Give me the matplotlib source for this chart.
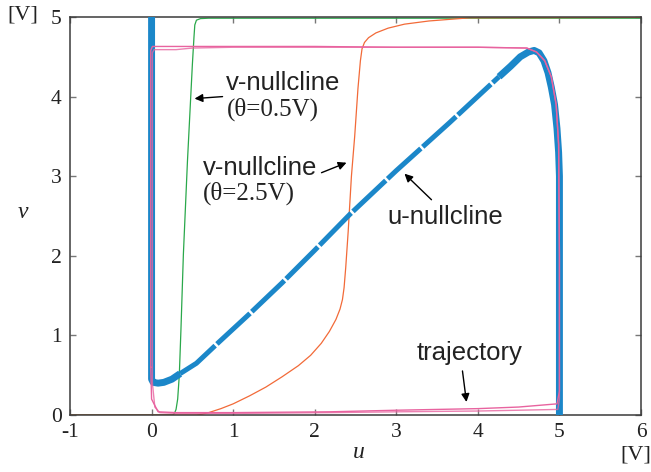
import matplotlib
matplotlib.use("Agg")
import matplotlib.pyplot as plt

# ===========================
#      Data
# ===========================
# u-nullcline (three pieces: left branch, middle branch, right branch)
nc_u_left = [0.0, 0.0, 0.02, 0.08, 0.15, 0.25, 0.35]
nc_v_left = [5.05, 0.45, 0.41, 0.40, 0.41, 0.45, 0.52]
nc_u_mid = [0.35, 0.55, 0.83, 1.2, 1.6, 2.0, 2.43, 3.0, 3.65, 4.26]
nc_v_mid = [0.52, 0.65, 0.92, 1.27, 1.66, 2.07, 2.52, 3.07, 3.67, 4.25]
nc_u_right = [4.26, 4.4, 4.52, 4.62, 4.69, 4.75, 4.81, 4.86, 4.9, 4.94,
              4.97, 4.99, 5.0, 5.0]
nc_v_right = [4.25, 4.38, 4.5, 4.56, 4.58, 4.55, 4.45, 4.3, 4.12, 3.9,
              3.6, 3.3, 3.0, -0.05]

# v-nullcline, theta = 0.5 V
vn05_u = [-1.0, 0.26, 0.28, 0.30, 0.32, 0.34, 0.36, 0.39, 0.44, 0.50,
          0.52, 0.53, 0.55, 0.6, 0.7, 6.0]
vn05_v = [0.0, 0.0, 0.02, 0.07, 0.2, 0.5, 1.07, 2.02, 3.19, 4.40,
          4.75, 4.9, 4.96, 4.98, 4.985, 4.985]

# v-nullcline, theta = 2.5 V
vn25_u = [-1.0, 0.55, 0.62, 0.7, 0.85, 1.0, 1.2, 1.4, 1.6, 1.8, 1.95,
          2.08, 2.18, 2.26, 2.31, 2.34, 2.36, 2.38, 2.41, 2.45, 2.49,
          2.53, 2.56, 2.58, 2.61, 2.66, 2.75, 2.9, 3.1, 3.4, 3.9, 6.0]
vn25_v = [0.0, 0.0, 0.01, 0.03, 0.08, 0.14, 0.24, 0.35, 0.48, 0.62, 0.75,
          0.9, 1.05, 1.2, 1.33, 1.45, 1.6, 1.85, 2.3, 3.0, 3.5,
          4.1, 4.45, 4.6, 4.68, 4.74, 4.8, 4.86, 4.91, 4.95, 4.99, 4.995]

# trajectories (two laps of the limit cycle)
tr1_u = [-0.01, -0.01, 0.01, 0.3, 1.0, 2.0, 3.0, 4.0, 4.6, 4.72, 4.82,
         4.9, 4.96, 4.99, 5.0, 5.0, 4.97, 4.5, 4.0, 3.0, 2.18, 1.0, 0.3,
         0.08, 0.0, -0.01]
tr1_v = [0.6, 4.58, 4.63, 4.63, 4.63, 4.63, 4.62, 4.62, 4.61, 4.56, 4.45,
         4.25, 3.9, 3.4, 2.0, 0.3, 0.14, 0.1, 0.08, 0.06, 0.04, 0.03, 0.03,
         0.04, 0.2, 0.6]
tr2_u = [0.01, 0.01, 0.03, 0.3, 0.5, 1.0, 2.0, 3.0, 4.0, 4.6, 4.72, 4.82,
         4.9, 4.96, 4.99, 5.0, 5.0, 4.98, 4.5, 4.0, 3.0, 2.18, 1.0, 0.3,
         0.1, 0.04, 0.01]
tr2_v = [0.4, 4.55, 4.59, 4.59, 4.61, 4.62, 4.62, 4.62, 4.62, 4.61, 4.56,
         4.45, 4.25, 3.9, 3.4, 2.0, 0.2, 0.07, 0.06, 0.05, 0.04, 0.03, 0.02,
         0.02, 0.03, 0.1, 0.4]

xticks = [-1, 0, 1, 2, 3, 4, 5, 6]
yticks = [0, 1, 2, 3, 4, 5]

blue = "#1b87c9"
pink = "#e8639f"
green = "#2aa84a"
orange = "#f26a38"

serif = "Liberation Serif"
sans = "Liberation Sans"

# ===========================
#      Figure
# ===========================
fig = plt.figure(figsize=(6.51, 4.72), dpi=100)
ax = fig.add_axes([70 / 651, 57 / 472, 571 / 651, 398 / 472])

ax.plot(vn05_u, vn05_v, color=green, lw=0.9, zorder=2)
ax.plot(vn25_u, vn25_v, color=orange, lw=0.9, zorder=2)

ax.plot(nc_u_left, nc_v_left, color=blue, lw=5, solid_capstyle="butt", zorder=3)
ax.plot(nc_u_mid, nc_v_mid, color=blue, lw=3.6, ls=(0, (9, 0.5)), zorder=3)
ax.plot(nc_u_right, nc_v_right, color=blue, lw=5, solid_capstyle="butt", zorder=3)

ax.plot(tr1_u, tr1_v, color=pink, lw=1.0, zorder=4)
ax.plot(tr2_u, tr2_v, color=pink, lw=1.0, alpha=0.8, zorder=4)

ax.set_xlim(-1, 6)
ax.set_ylim(0, 5)
ax.set_xticks(xticks)
ax.set_yticks(yticks)
ax.set_xticklabels([str(t) for t in xticks], fontfamily=serif, fontsize=15.5)
ax.set_yticklabels([str(t) for t in yticks], fontfamily=serif, fontsize=15.5)
ax.tick_params(direction="in", length=4, width=1, color="#777777",
               top=True, right=True, pad=6, labelcolor="#222222")
for s in ax.spines.values():
    s.set_color("#3a3a3a")
    s.set_linewidth(1.1)

# axis labels
fig.text(359 / 651, 1 - 452 / 472, "u", fontfamily=serif, style="italic",
         fontsize=17, ha="center", va="center", color="#222222")
fig.text(23 / 651, 1 - 213 / 472, "v", fontfamily=serif, style="italic",
         fontsize=17, ha="center", va="center", color="#222222")
fig.text(23 / 651, 1 - 15 / 472, "[V]", fontfamily=serif, fontsize=16,
         ha="center", va="center", color="#222222")
fig.text(636 / 651, 1 - 455 / 472, "[V]", fontfamily=serif, fontsize=16,
         ha="center", va="center", color="#222222")

# annotations
def px(x, y):
    # pixel position -> data coords
    return (x - 152) / 81.6, (415 - y) / 79.5

arrow = dict(arrowstyle="-|>", color="black", lw=1.0, mutation_scale=12,
             shrinkA=0, shrinkB=0)
tc = "#222222"

ax.text(*px(226, 83), "v-nullcline", fontfamily=sans, fontsize=18.5,
        ha="left", va="center", color=tc)
ax.text(*px(227, 110), "(θ=0.5V)", fontfamily=serif, fontsize=18,
        ha="left", va="center", color=tc)
ax.annotate("", xy=px(195, 99), xytext=px(223, 97), arrowprops=arrow)

ax.text(*px(203, 168), "v-nullcline", fontfamily=sans, fontsize=18.5,
        ha="left", va="center", color=tc)
ax.text(*px(203, 194), "(θ=2.5V)", fontfamily=serif, fontsize=18,
        ha="left", va="center", color=tc)
ax.annotate("", xy=px(347, 163), xytext=px(322, 173), arrowprops=arrow)

ax.text(*px(388, 217), "u-nullcline", fontfamily=sans, fontsize=18.5,
        ha="left", va="center", color=tc)
ax.annotate("", xy=px(405, 174), xytext=px(432, 200), arrowprops=arrow)

ax.text(*px(417, 353), "trajectory", fontfamily=sans, fontsize=18.5,
        ha="left", va="center", color=tc)
ax.annotate("", xy=px(467, 402), xytext=px(463, 371), arrowprops=arrow)

plt.savefig("out.png", dpi=100)
plt.close()
